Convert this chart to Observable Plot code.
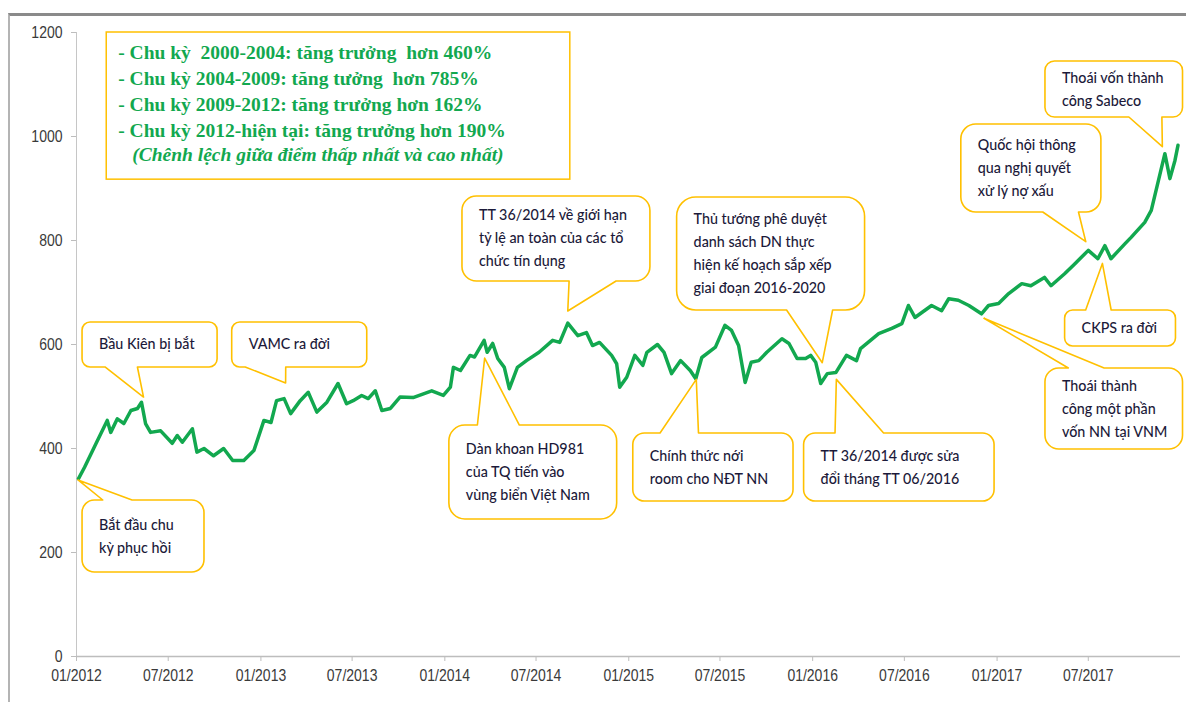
<!DOCTYPE html>
<html><head><meta charset="utf-8">
<script src="https://cdn.jsdelivr.net/npm/d3@7"></script>
<script src="https://cdn.jsdelivr.net/npm/@observablehq/plot@0.6"></script>
<style>
html,body{margin:0;padding:0;background:#fff;}
#wrap{position:relative;width:1186px;height:702px;overflow:hidden;}
#frame{position:absolute;left:8px;top:13px;width:1200px;height:720px;border-top:3px solid #8a8a8a;border-left:2px solid #b4b4b4;}
#chart{position:absolute;left:0;top:0;}
</style></head><body><div id="wrap"><div id="frame"></div><div id="chart"></div></div>
<script>
// ---------- data ----------
const dates = [
"2012-01-05","2012-01-17","2012-02-09","2012-03-02","2012-03-09","2012-03-22","2012-04-04","2012-04-18","2012-05-01","2012-05-09",
"2012-05-17","2012-05-27","2012-06-16","2012-07-09","2012-07-19","2012-07-29","2012-08-18","2012-08-27","2012-09-10","2012-09-29",
"2012-10-19","2012-11-06","2012-11-28","2012-12-18","2013-01-07","2013-01-21","2013-02-01","2013-02-16","2013-03-01","2013-03-20",
"2013-04-05","2013-04-22","2013-05-12","2013-06-03","2013-06-20","2013-07-03","2013-07-20","2013-08-02","2013-08-16","2013-08-29",
"2013-09-15","2013-10-04","2013-10-30","2013-12-06","2013-12-29","2014-01-12","2014-01-18","2014-02-01","2014-02-20","2014-03-01",
"2014-03-20","2014-03-26","2014-04-06","2014-04-16","2014-04-29","2014-05-09","2014-05-25","2014-06-12","2014-07-07","2014-08-03",
"2014-08-17","2014-09-02","2014-09-22","2014-10-09","2014-10-21","2014-11-04","2014-11-28","2014-12-08","2014-12-14","2014-12-28",
"2015-01-13","2015-01-29","2015-02-06","2015-02-27","2015-03-12","2015-03-27","2015-04-14","2015-05-03","2015-05-14","2015-05-26",
"2015-06-22","2015-07-11","2015-07-24","2015-08-07","2015-08-20","2015-09-01","2015-09-16","2015-10-02","2015-11-01","2015-11-15",
"2015-12-01","2015-12-18","2015-12-28","2016-01-07","2016-01-17","2016-01-30","2016-02-16","2016-03-08","2016-03-28","2016-04-05",
"2016-05-11","2016-06-06","2016-06-26","2016-07-09","2016-07-22","2016-08-24","2016-09-13","2016-09-27","2016-10-16","2016-11-06",
"2016-12-01","2016-12-15","2017-01-04","2017-01-24","2017-02-19","2017-03-09","2017-04-05","2017-04-18","2017-05-15","2017-06-04",
"2017-07-01","2017-07-20","2017-08-03","2017-08-15","2017-09-12","2017-09-24","2017-10-21","2017-11-03","2017-11-30","2017-12-10",
"2017-12-20","2017-12-26"];
const values = [
342,364,410,454,431,457,448,473,477,489,
448,431,434,410,425,412,438,393,400,386,
400,377,377,396,454,450,492,496,467,492,
508,470,489,525,486,492,502,496,511,473,
477,499,498,511,502,518,556,550,579,576,
608,585,602,573,556,515,556,569,585,608,
604,641,617,623,598,604,579,563,518,537,
579,560,585,600,585,544,569,550,534,575,
595,637,627,598,527,566,569,585,611,602,
573,573,579,566,525,544,546,579,569,592,
621,631,640,675,652,675,665,688,685,675,
659,675,679,698,717,713,729,713,736,755,
781,765,790,765,794,806,835,858,967,919,
954,983];
const yTicks = [0, 200, 400, 600, 800, 1000, 1200];
const xTickLabels = ["01/2012","07/2012","01/2013","07/2013","01/2014","07/2014","01/2015","07/2015","01/2016","07/2016","01/2017","07/2017"];
const summaryLines = [
  "- Chu kỳ  2000-2004: tăng trưởng  hơn 460%",
  "- Chu kỳ 2004-2009: tăng tưởng  hơn 785%",
  "- Chu kỳ 2009-2012: tăng trưởng hơn 162%",
  "- Chu kỳ 2012-hiện tại: tăng trưởng hơn 190%",
  "(Chênh lệch giữa điểm thấp nhất và cao nhất)"
];
const calloutTexts = [
  ["Bắt đầu chu", "kỳ phục hồi"],
  ["Bầu Kiên bị bắt"],
  ["VAMC ra đời"],
  ["Dàn khoan HD981", "của TQ tiến vào", "vùng biển Việt Nam"],
  ["TT 36/2014 về giới hạn", "tỷ lệ an toàn của các tổ", "chức tín dụng"],
  ["Thủ tướng phê duyệt", "danh sách DN thực", "hiện kế hoạch sắp xếp", "giai đoạn 2016-2020"],
  ["Chính thức nới", "room cho NĐT NN"],
  ["TT 36/2014 được sửa", "đổi tháng TT 06/2016"],
  ["Quốc hội thông", "qua nghị quyết", "xử lý nợ xấu"],
  ["CKPS ra đời"],
  ["Thoái thành", "công một phần", "vốn NN tại VNM"],
  ["Thoái vốn thành", "công Sabeco"]
];

// ---------- annotation placement (data coordinates) ----------
const summaryBox = {x1: "2012-03-01", x2: "2014-09-07", yTop: 1200, yBot: 917};
const calloutBoxes = [
  {x1:"2012-01-13", x2:"2012-09-11", yTop:300,   yBot:161.5, side:"top",    base:[0.17,0.41], tip:["2012-01-05",338.5]},
  {x1:"2012-01-13", x2:"2012-10-07", yTop:642.3, yBot:555.8, side:"bottom", base:[0.17,0.41], tip:["2012-05-14",498]},
  {x1:"2012-11-05", x2:"2013-07-31", yTop:642.3, yBot:555.8, side:"bottom", base:[0.10,0.40], tip:["2013-02-20",525]},
  {x1:"2014-01-10", x2:"2014-12-09", yTop:444.2, yBot:263.5, side:"top",    base:[0.17,0.42], tip:["2014-03-22",573]},
  {x1:"2014-02-05", x2:"2015-02-13", yTop:884.6, yBot:721.2, side:"bottom", base:[0.57,0.82], tip:["2014-09-03",663.5]},
  {x1:"2015-04-07", x2:"2016-04-14", yTop:882.7, yBot:665.4, side:"bottom", base:[0.585,0.83], tip:["2016-01-21",564]},
  {x1:"2015-01-10", x2:"2015-11-24", yTop:428.8, yBot:298,   side:"top",    base:[0.17,0.41], tip:["2015-05-16",532]},
  {x1:"2015-12-15", x2:"2016-12-27", yTop:428.8, yBot:298,   side:"top",    base:[0.165,0.42], tip:["2016-02-18",532]},
  {x1:"2016-10-22", x2:"2017-07-27", yTop:1023,  yBot:853.8, side:"bottom", base:[0.585,0.84], tip:["2017-06-27",796.7]},
  {x1:"2017-05-16", x2:"2017-12-22", yTop:665.4, yBot:596.2, side:"top",    base:[0.19,0.42], tip:["2017-07-30",755]},
  {x1:"2017-04-07", x2:"2018-01-05", yTop:553.8, yBot:398,   side:"top",    base:[0.17,0.43], tip:["2016-12-07",649.4]},
  {x1:"2017-04-07", x2:"2018-01-05", yTop:1144.2,yBot:1036.5,side:"bottom", base:[0.61,0.85], tip:["2017-11-26",979.4]}
];

// ---------- build ----------
const parseDay = d3.utcParse("%Y-%m-%d");
const parseMonth = d3.utcParse("%m/%Y");
const series = dates.map((d, i) => ({date: parseDay(d), value: values[i]}));
const xTicks = xTickLabels.map(parseMonth);
const GREEN = "#12a84f";
const GOLD = "#ffc000";

function bubblePath(x0, y0, x1, y1, r, side, b0, b1, tx, ty) {
  let p = `M${x0 + r},${y0}`;
  if (side === "top") p += `L${b0},${y0}L${tx},${ty}L${b1},${y0}`;
  p += `L${x1 - r},${y0}A${r},${r} 0 0 1 ${x1},${y0 + r}`;
  p += `L${x1},${y1 - r}A${r},${r} 0 0 1 ${x1 - r},${y1}`;
  if (side === "bottom") p += `L${b1},${y1}L${tx},${ty}L${b0},${y1}`;
  p += `L${x0 + r},${y1}A${r},${r} 0 0 1 ${x0},${y1 - r}`;
  p += `L${x0},${y0 + r}A${r},${r} 0 0 1 ${x0 + r},${y0}Z`;
  return p;
}

function annotations(index, scales) {
  const X = scales.x, Y = scales.y;
  const g = d3.create("svg:g").attr("text-anchor", "start");
  // summary box
  const sx0 = X(parseDay(summaryBox.x1)), sx1 = X(parseDay(summaryBox.x2));
  const sy0 = Y(summaryBox.yTop), sy1 = Y(summaryBox.yBot);
  g.append("rect").attr("x", sx0).attr("y", sy0).attr("width", sx1 - sx0).attr("height", sy1 - sy0)
    .attr("fill", "white").attr("stroke", GOLD).attr("stroke-width", 1.5);
  summaryLines.forEach((t, i) => {
    const last = i === summaryLines.length - 1;
    g.append("text").attr("x", sx0 + 12 + (last ? 14 : 0)).attr("y", sy0 + 20 + i * 26 - (last ? 2 : 0)).attr("dy", "0.35em")
      .attr("text-anchor", "start")
      .attr("fill", GREEN).attr("font-family", "Liberation Serif, serif").attr("font-weight", "bold")
      .attr("font-style", last ? "italic" : "normal").attr("font-size", 19.5).style("white-space", "pre").text(t);
  });
  calloutBoxes.forEach((c, k) => {
    const x0 = X(parseDay(c.x1)), x1 = X(parseDay(c.x2)), y0 = Y(c.yTop), y1 = Y(c.yBot);
    const tx = X(parseDay(c.tip[0])), ty = Y(c.tip[1]);
    const w = x1 - x0, h = y1 - y0;
    const b0 = x0 + c.base[0] * w, b1 = x0 + c.base[1] * w;
    const r = Math.max(8, 0.17 * Math.min(w, h));
    g.append("path").attr("d", bubblePath(x0, y0, x1, y1, r, c.side, b0, b1, tx, ty))
      .attr("fill", "white").attr("stroke", GOLD).attr("stroke-width", 1.6).attr("stroke-linejoin", "round");
    const lines = calloutTexts[k];
    const cy = (y0 + y1) / 2;
    lines.forEach((t, i) => {
      g.append("text").attr("x", x0 + 17).attr("y", cy + (i - (lines.length - 1) / 2) * 23).attr("dy", "0.35em")
        .attr("text-anchor", "start").attr("font-weight", 500)
        .attr("fill", "#1c1a3a").attr("font-family", "Lato, 'Open Sans', sans-serif").attr("font-size", 14.3).text(t);
    });
  });
  return g.node();
}

const chart = Plot.plot({
  width: 1186,
  height: 702,
  marginLeft: 76,
  marginRight: 6,
  marginTop: 32,
  marginBottom: 46,
  style: {background: "transparent", fontFamily: "Liberation Sans, Arial, sans-serif", fontSize: "14px", color: "#3a3a3a"},
  x: {type: "utc", domain: [parseDay("2012-01-01"), parseDay("2017-12-31")], ticks: xTicks,
      tickFormat: d3.utcFormat("%m/%Y"), tickSize: 5, tickPadding: 9, label: null},
  y: {domain: [0, 1200], ticks: yTicks, tickFormat: d => String(d), tickSize: 5, tickPadding: 9, label: null},
  marks: [
    Plot.ruleX([parseDay("2012-01-01")], {stroke: "#c6c6c6", strokeWidth: 1}),
    Plot.ruleY([0], {stroke: "#bdbdbd", strokeWidth: 1.5}),
    Plot.line(series, {x: "date", y: "value", stroke: GREEN, strokeWidth: 3.5, strokeLinejoin: "round", strokeLinecap: "round"}),
    annotations
  ]
});
document.getElementById("chart").appendChild(chart);

// axis styling: light tick marks, slightly tall tick labels
chart.querySelectorAll('[aria-label^="x-axis"] line, [aria-label^="y-axis"] line, [aria-label^="x-axis"] path, [aria-label^="y-axis"] path')
  .forEach(el => { el.setAttribute("stroke", "#bdbdbd"); });
chart.querySelectorAll('[aria-label^="x-axis"] text, [aria-label^="y-axis"] text').forEach(el => {
  el.setAttribute("font-size", 14);
  el.setAttribute("font-family", "Liberation Sans, Arial, sans-serif");
  el.setAttribute("fill", "#3a3a3a");
  const b = el.getBBox();
  const cy = b.y + b.height / 2;
  el.setAttribute("transform", (el.getAttribute("transform") || "") + ` translate(0,${cy}) scale(1,1.2) translate(0,${-cy})`);
});
</script>
</body></html>
